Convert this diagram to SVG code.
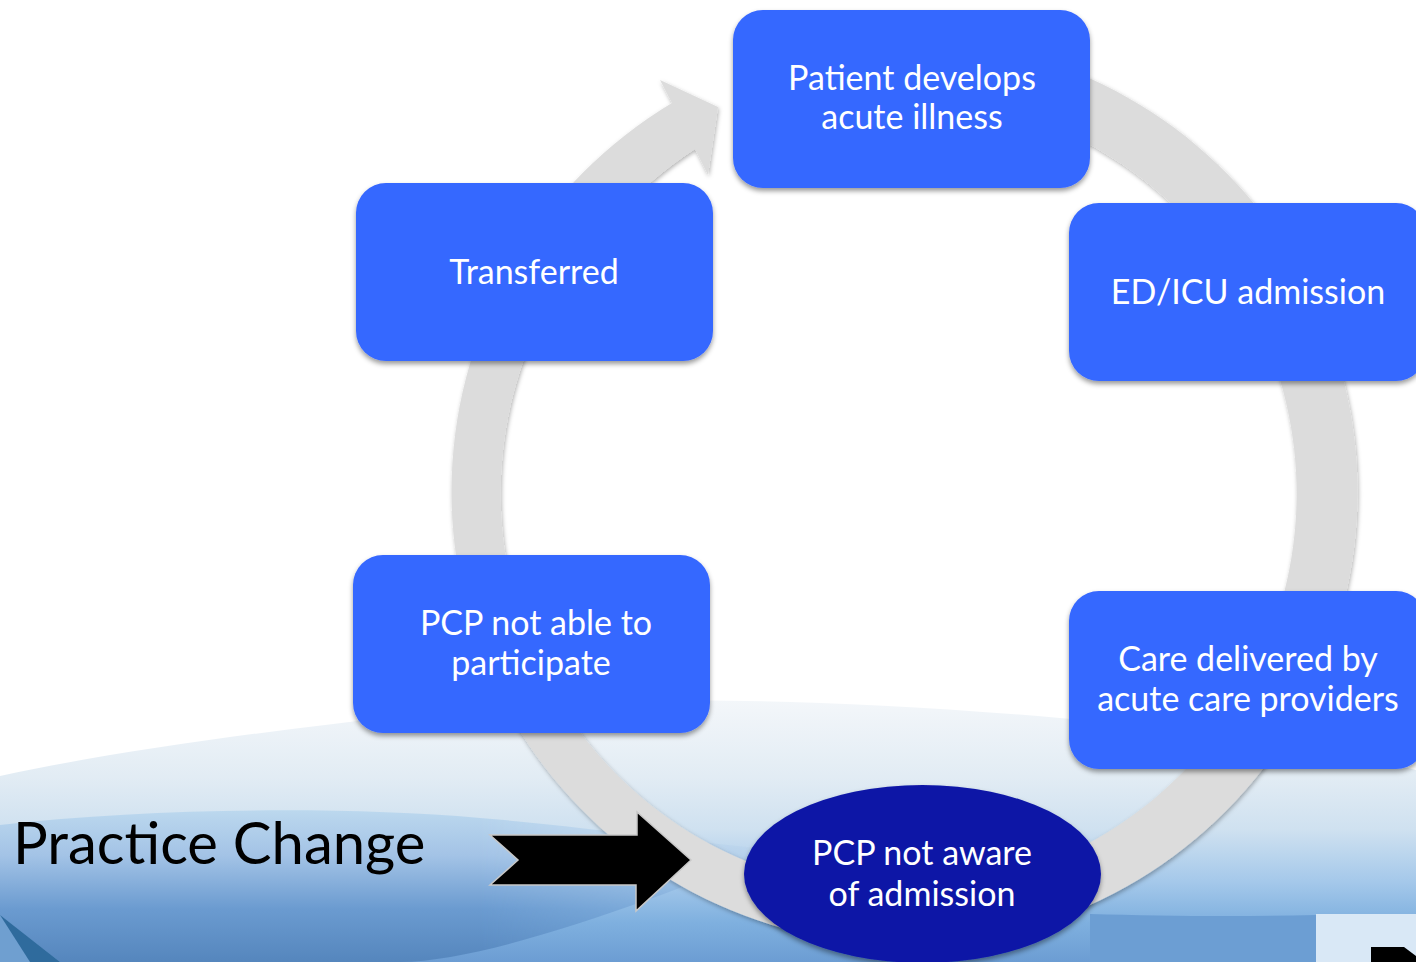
<svg xmlns="http://www.w3.org/2000/svg" width="1416" height="962" viewBox="0 0 1416 962">
<style>
.n{fill:#3667ff;filter:url(#s)}
.t{font-family:Lato,"Open Sans","Liberation Sans",sans-serif;font-size:34px;fill:#fff;text-anchor:middle}
</style>
<defs>
<linearGradient id="g1" x1="0" y1="697" x2="0" y2="962" gradientUnits="userSpaceOnUse">
<stop offset="0" stop-color="#f4f7fa"/><stop offset=".3" stop-color="#e2ecf4"/><stop offset=".5" stop-color="#cfe1f0"/><stop offset=".7" stop-color="#a4c8ea"/><stop offset=".85" stop-color="#7fb0df"/><stop offset="1" stop-color="#6c9dd3"/>
</linearGradient>
<linearGradient id="g0" x1="0" y1="690" x2="0" y2="800" gradientUnits="userSpaceOnUse">
<stop offset="0" stop-color="#fff"/><stop offset="1" stop-color="#eef3f8"/>
</linearGradient>
<linearGradient id="g2" x1="0" y1="810" x2="0" y2="962" gradientUnits="userSpaceOnUse">
<stop offset="0" stop-color="#bcd8ee"/><stop offset=".3" stop-color="#a3c3e6"/><stop offset=".65" stop-color="#6b9bd0"/><stop offset="1" stop-color="#5586bd"/>
</linearGradient>
<linearGradient id="f2" x1="0" y1="0" x2="1" y2="0">
<stop offset="0" stop-color="#fff"/><stop offset=".6" stop-color="#fff"/><stop offset="1" stop-color="#000"/>
</linearGradient>
<mask id="m2"><rect x="0" y="800" width="800" height="162" fill="url(#f2)"/></mask>
<filter id="s" x="-10%" y="-10%" width="120%" height="125%"><feDropShadow dx="0" dy="3" stdDeviation="2.5" flood-color="#000" flood-opacity=".4"/></filter>
<filter id="s2" x="-5%" y="-5%" width="110%" height="110%"><feDropShadow dx="1" dy="2" stdDeviation="2" flood-color="#000" flood-opacity=".3"/></filter>
</defs>
<rect width="1416" height="962" fill="#fff"/>
<g id="background">
<rect y="690" width="1416" height="272" fill="url(#g0)" opacity="0"/>
<path d="M0,776C130,748 280,730 400,716C560,698 760,692 1060,718C1200,730 1320,745 1416,770V962H0Z" fill="url(#g1)"/>
<path d="M0,825C150,808 340,806 480,818C580,826 650,838 780,850C700,880 500,962 400,962H0Z" fill="url(#g2)" mask="url(#m2)"/>
<path d="M0,915L60,962H0Z" fill="#6f9fd0"/>
<path d="M0,915L60,962H30Z" fill="#2f6b9d"/>
<path d="M1090,914C1160,916 1240,917 1316,915V962H1090Z" fill="#6c9ed3"/>
<rect x="1316" y="914" width="100" height="48" fill="#d9e8f6"/>
<path d="M1371,947H1404L1416,956V962H1371Z" fill="#000"/>
</g>
<g id="connectors">
<path id="cycle" d="M800,51A453,453 0 1 1 672,103L660,80L718,107L708,175L695,149A400,400 0 0 0 651,182A398,398 0 1 0 800,108Z" fill="#dcdcdc" filter="url(#s2)"/>
</g>
<g id="node-patient"><rect class="n" x="733" y="10" width="357" height="178" rx="30"/><text class="t" x="912" y="90">Patient develops</text><text class="t" x="912" y="129">acute illness</text></g>
<g id="node-ed"><rect class="n" x="1069" y="203" width="357" height="178" rx="30"/><text class="t" x="1248" y="304">ED/ICU admission</text></g>
<g id="node-care"><rect class="n" x="1069" y="591" width="357" height="178" rx="30"/><text class="t" x="1248" y="671">Care delivered by</text><text class="t" x="1248" y="711">acute care providers</text></g>
<g id="node-pcp-aware"><ellipse cx="922.500" cy="874" rx="178.500" ry="89" fill="#0a14a6" filter="url(#s)"/><text class="t" x="922" y="865">PCP not aware</text><text class="t" x="922" y="906">of admission</text></g>
<g id="node-pcp-able"><rect class="n" x="353" y="555" width="357" height="178" rx="30"/><text class="t" x="536" y="635">PCP not able to</text><text class="t" x="531" y="675">participate</text></g>
<g id="node-transferred"><rect class="n" x="356" y="183" width="357" height="178" rx="30"/><text class="t" x="534" y="284">Transferred</text></g>
<g id="practice-change">
<path d="M490,835H637V812L691,860L636,911V885H490L518,860Z" fill="#000" stroke="#c8c8c8" stroke-width="1.500"/>
<text x="13" y="864" font-family="Lato,'Open Sans','Liberation Sans',sans-serif" font-size="58" fill="#000">Practice Change</text>
</g>
</svg>
